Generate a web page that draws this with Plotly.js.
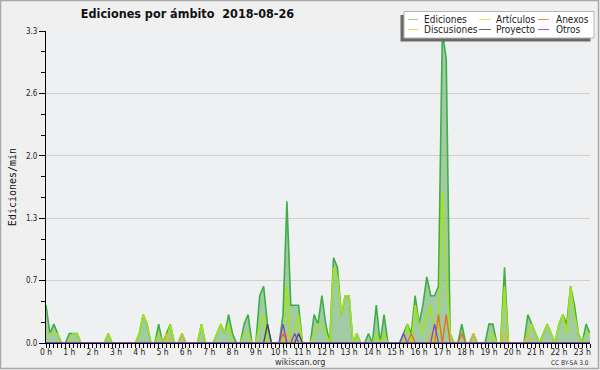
<!DOCTYPE html>
<html><head><meta charset="utf-8">
<script src="https://cdn.plot.ly/plotly-3.0.1.min.js"></script>
<style>html,body{margin:0;padding:0;background:#f0f0f0;}#chart{width:600px;height:370px;}</style>
</head><body><div id="chart"></div>
<script>
// Hour tick positions and labels
const hourTicks = [0,1,2,3,4,5,6,7,8,9,10,11,12,13,14,15,16,17,18,19,20,21,22,23];
const hourLabels = ["0 h","1 h","2 h","3 h","4 h","5 h","6 h","7 h","8 h","9 h","10 h","11 h","12 h","13 h","14 h","15 h","16 h","17 h","18 h","19 h","20 h","21 h","22 h","23 h"];
const yTickVals = [0, 0.66, 1.32, 1.98, 2.64, 3.3];
const yTickText = ["0.0","0.7","1.3","2.0","2.6","3.3"];
const stepMinutes = 10;

// Edits per minute, one value per 10 minutes (rows = hours)
const ediciones = [
 0.4,0.1,0.2,0.1,0,0,
 0.1,0.1,0.1,0,0,0,
 0,0,0,0,0.1,0,
 0,0,0,0,0,0,
 0.1,0.3,0.2,0,0,0.2,
 0,0.1,0.2,0,0,0.1,
 0,0,0,0,0.2,0,
 0,0,0.1,0.2,0.1,0.3,
 0.1,0,0,0.2,0.3,0,
 0,0.5,0.6,0.2,0,0,
 0,0.3,1.5,0.4,0.4,0.4,
 0,0,0,0.3,0.2,0.5,
 0.2,0,0.9,0.8,0.3,0.5,
 0.5,0,0.1,0,0,0.1,
 0,0.4,0,0.3,0,0,
 0,0,0.1,0.2,0.1,0.5,
 0.2,0.4,0.7,0.5,0.5,0.6,
 3.3,3.0,0.1,0,0,0.2,
 0,0,0.1,0,0,0,
 0.2,0.2,0,0,0.8,0,
 0,0,0,0,0.3,0.2,
 0.1,0,0.1,0.2,0.1,0,
 0.2,0.3,0.2,0.6,0.4,0.1,
 0,0.2,0.1
];
const articulos = [
 0.1,0.1,0.1,0.1,0,0,
 0,0.1,0.1,0,0,0,
 0,0,0,0,0.1,0,
 0,0,0,0,0,0,
 0.1,0.3,0.2,0,0,0.1,
 0,0,0.2,0,0,0,
 0,0,0,0,0.2,0,
 0,0,0.1,0.2,0.1,0.2,
 0,0,0,0.1,0.1,0,
 0,0.2,0.3,0,0,0,
 0,0,0.6,0,0.1,0.3,
 0,0,0,0.1,0.2,0.2,
 0.1,0,0.8,0.7,0.3,0.5,
 0.5,0,0.1,0,0,0,
 0,0.1,0,0.1,0,0,
 0,0,0,0.2,0,0.4,
 0.2,0.1,0.3,0.4,0,0.1,
 1.6,0.8,0.1,0,0,0,
 0,0,0,0,0,0,
 0,0.1,0,0,0.6,0,
 0,0,0,0,0.1,0.2,
 0.1,0,0.1,0.2,0.1,0,
 0.2,0.3,0.1,0.6,0.3,0.1,
 0,0.1,0.1
];
const anexos = [
 0,0,0,0,0,0, 0,0,0,0,0,0, 0,0,0,0,0,0, 0,0,0,0,0,0,
 0,0,0,0,0,0, 0,0,0,0,0,0, 0,0,0,0,0,0, 0,0,0,0,0,0,
 0,0,0,0,0,0, 0,0,0,0,0,0,
 0,0.1,0,0,0,0,
 0,0,0,0,0,0, 0,0,0,0,0,0, 0,0,0,0,0,0, 0,0,0,0,0,0,
 0,0,0,0,0.1,0,
 0,0,0,0,0,0.3,
 0,0.3,0,0,0,0.1,
 0,0,0,0,0,0, 0,0,0,0,0,0, 0,0,0,0,0,0, 0,0,0,0,0,0, 0,0,0,0,0,0,
 0,0,0
];
const discusiones = [
 0,0,0,0,0,0, 0,0,0,0,0,0, 0,0,0,0,0,0, 0,0,0,0,0,0, 0,0,0,0,0,0,
 0,0.1,0,0,0,0.1,
 0,0,0,0,0,0, 0,0,0,0,0,0, 0,0,0,0,0,0, 0,0,0,0,0,0,
 0,0,0.1,0,0,0,
 0,0,0,0,0,0, 0,0,0,0,0,0, 0,0,0,0,0,0, 0,0,0,0,0,0, 0,0,0,0,0,0,
 0,0,0,0.1,0,0,
 0,0,0,0,0,0,
 0,0,0.1,0,0,0,
 0,0,0,0,0.1,0,
 0,0,0,0,0.1,0,
 0,0,0,0,0,0, 0,0,0,0,0,0,
 0,0,0
];
const proyecto = [
 0,0,0,0,0,0, 0,0,0,0,0,0, 0,0,0,0,0,0, 0,0,0,0,0,0, 0,0,0,0,0,0,
 0,0,0,0,0,0, 0,0,0,0,0,0, 0,0,0,0,0,0, 0,0,0,0,0,0,
 0,0,0,0.2,0,0,
 0,0,0,0,0,0.1,
 0,0,0,0,0,0, 0,0,0,0,0,0, 0,0,0,0,0,0, 0,0,0,0,0,0, 0,0,0,0,0,0,
 0,0,0,0,0,0, 0,0,0,0,0,0, 0,0,0,0,0,0, 0,0,0,0,0,0, 0,0,0,0,0,0,
 0,0,0,0,0,0, 0,0,0,0,0,0,
 0,0,0
];
const otros = [
 0,0,0,0,0,0, 0,0,0,0,0,0, 0,0,0,0,0,0, 0,0,0,0,0,0, 0,0,0,0,0,0,
 0,0,0,0,0,0, 0,0,0,0,0,0, 0,0,0,0,0,0, 0,0,0,0,0,0, 0,0,0,0,0,0,
 0,0.2,0,0,0.1,0,
 0,0,0,0,0,0, 0,0,0,0,0,0, 0,0,0,0,0,0, 0,0,0,0,0,0,
 0,0,0.1,0,0,0,
 0,0,0,0,0.2,0,
 0,0,0,0,0,0, 0,0,0,0,0,0, 0,0,0,0,0,0, 0,0,0,0,0,0, 0,0,0,0,0,0,
 0,0,0,0,0,0, 0,0,0,0,0,0,
 0,0,0
];

const times = ediciones.map((_, i) => i * stepMinutes / 60);

const FONT = "DejaVu Sans Condensed, DejaVu Sans, sans-serif";
const series = [
  {name: "Ediciones",   y: ediciones,   color: "#3fae47", width: 1.6, fill: true,  legend: "#8fd48f", col: 0, row: 0},
  {name: "Artículos",   y: articulos,   color: "#a4e21c", width: 1.6, fill: false, legend: "#c9ef6a", col: 1, row: 0},
  {name: "Anexos",      y: anexos,      color: "#ee6a1e", width: 1.3, fill: false, legend: "#f28a5a", col: 2, row: 0},
  {name: "Discusiones", y: discusiones, color: "#e4bc22", width: 1.3, fill: false, legend: "#f3d25a", col: 0, row: 1},
  {name: "Proyecto",    y: proyecto,    color: "#444444", width: 1.3, fill: false, legend: "#666666", col: 1, row: 1},
  {name: "Otros",       y: otros,       color: "#8a3de0", width: 1.3, fill: false, legend: "#9a5ce6", col: 2, row: 1}
];

const traces = series.map(s => ({
  type: "scatter", mode: "lines", name: s.name, x: times, y: s.y,
  line: {color: s.color, width: s.width},
  fill: s.fill ? "tozeroy" : "none",
  fillcolor: "rgba(88,168,90,0.52)",
  hoverinfo: "skip", showlegend: false
}));

// pixel -> paper helpers
const L = 46, R = 590, T = 31, B = 343;
const px = x => (x - L) / (R - L);
const py = y => (B - y) / (B - T);

const shapes = [
  // legend shadow + box
  {type: "rect", xref: "paper", yref: "paper", x0: px(400.5), x1: px(590.5), y0: py(15), y1: py(41.5), fillcolor: "#6a6a6a", line: {width: 0}},
  {type: "rect", xref: "paper", yref: "paper", x0: px(404), x1: px(594), y0: py(11.5), y1: py(38), fillcolor: "#ffffff", line: {color: "#b4b4b4", width: 1}},
  // outer border
  {type: "rect", xref: "paper", yref: "paper", x0: px(0.5), x1: px(598.5), y0: py(0.5), y1: py(368.5), fillcolor: "rgba(0,0,0,0)", line: {color: "#a8a8a8", width: 1.5}}
];
const colLine = [[408, 418], [479, 491], [538, 549]];
const colText = [423, 495, 554.5];
const rowY = [19.5, 29.5];
const annotations = [];
series.forEach(s => {
  shapes.push({type: "line", xref: "paper", yref: "paper",
    x0: px(colLine[s.col][0]), x1: px(colLine[s.col][1]), y0: py(rowY[s.row]), y1: py(rowY[s.row]),
    line: {color: s.legend, width: 1}});
  annotations.push({xref: "paper", yref: "paper", x: px(colText[s.col]), y: py(rowY[s.row]),
    xanchor: "left", yanchor: "middle", text: s.name, showarrow: false,
    font: {family: FONT, size: 10, color: "#222"}, borderpad: 0});
});
annotations.push({xref: "paper", yref: "paper", x: px(300), y: py(361.5), xanchor: "center", yanchor: "middle",
  text: "wikiscan.org", showarrow: false, font: {family: FONT, size: 9, color: "#333"}, borderpad: 0});
annotations.push({xref: "paper", yref: "paper", x: px(590), y: py(363), xanchor: "right", yanchor: "middle",
  text: "CC BY-SA 3.0", showarrow: false, font: {family: FONT, size: 6.5, color: "#333"}, borderpad: 0});

const layout = {
  width: 600, height: 370,
  margin: {l: L, r: 600 - R, t: T, b: 370 - B, pad: 0},
  paper_bgcolor: "#f0f0f0", plot_bgcolor: "#eef0f2",
  showlegend: false,
  title: {text: "Ediciones por ámbito  2018-08-26", x: 187.5 / 600, xref: "container", xanchor: "center",
          y: 1 - 14 / 370, yref: "container", yanchor: "middle",
          font: {family: FONT, size: 12.5, weight: "bold", color: "#111"}},
  xaxis: {
    range: [0, times[times.length - 1]], tickmode: "array", tickvals: hourTicks, ticktext: hourLabels,
    ticks: "outside", ticklen: 4, tickcolor: "#000", tickwidth: 1, ticklabelstandoff: -3,
    showline: true, linecolor: "#000", linewidth: 1, showgrid: false, zeroline: false,
    tickfont: {family: FONT, size: 8.5, color: "#222"},
    minor: {tickmode: "linear", tick0: 0, dtick: 1 / 6, ticks: "outside", ticklen: 4, tickcolor: "#000", showgrid: false},
    fixedrange: true
  },
  yaxis: {
    range: [0, 3.3], tickmode: "array", tickvals: yTickVals, ticktext: yTickText,
    ticks: "outside", ticklen: 6, tickcolor: "#000", tickwidth: 1,
    showline: true, linecolor: "#000", linewidth: 1, showgrid: true, gridcolor: "#d0d0d0", gridwidth: 1, zeroline: false,
    tickfont: {family: FONT, size: 8, color: "#222"},
    minor: {tickmode: "linear", tick0: 0, dtick: 0.22, ticks: "outside", ticklen: 4, tickcolor: "#000", showgrid: false},
    title: {text: "Ediciones/min", font: {family: "DejaVu Sans Mono", size: 10, color: "#111"}},
    fixedrange: true
  },
  shapes: shapes,
  annotations: annotations
};

Plotly.newPlot("chart", traces, layout, {staticPlot: true, displayModeBar: false});
</script></body></html>
